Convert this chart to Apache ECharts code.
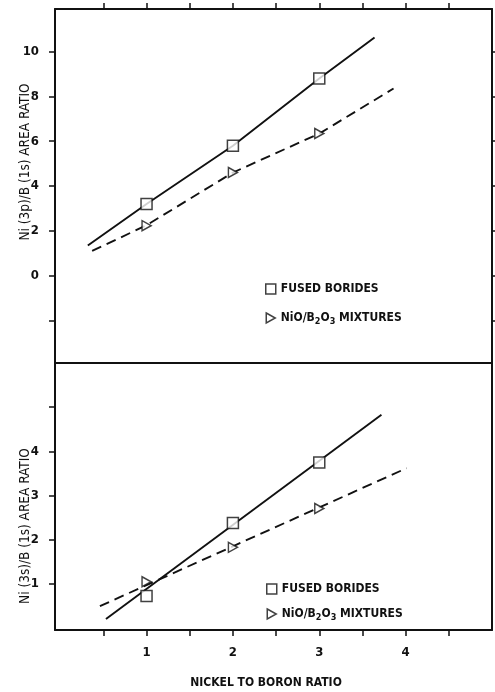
<!DOCTYPE html>
<html>
<head>
<meta charset="utf-8">
<title>Ni/B XPS area ratios</title>
<script src="https://cdn.jsdelivr.net/npm/echarts@6/dist/echarts.min.js"></script>
<style>
  html, body { margin: 0; padding: 0; background: #fff; }
  #chart { width: 495px; height: 692px; }
</style>
</head>
<body>
<div id="chart"></div>
<script>
// Nickel to boron ratio of the samples
const nickelRatio = [1, 2, 3];

// Ni(3p)/B(1s) area ratio
const p3Fused = [3.2, 5.8, 8.8];
const p3Mixture = [2.23, 4.6, 6.34];
// hand-drawn trend lines through the Ni(3p) points, [ratio, area ratio]
const p3FusedTrend = [[0.32, 1.34], [1, 3.2], [2, 5.8], [3, 8.8], [3.64, 10.63]];
const p3MixtureTrend = [[0.37, 1.1], [1, 2.25], [2, 4.6], [3, 6.34], [3.86, 8.35]];

// Ni(3s)/B(1s) area ratio
const s3Fused = [0.73, 2.38, 3.75];
const s3Mixture = [1.05, 1.83, 2.71];
const s3FusedTrend = [[0.53, 0.21], [3.72, 4.83]];
const s3MixtureTrend = [[0.46, 0.5], [4.01, 3.62]];

// axis ticks and labels
const xTicks = [0.5, 1, 1.5, 2, 2.5, 3, 3.5, 4, 4.5];
const xLabels = [1, 2, 3, 4];
const p3Ticks = [-2, 0, 2, 4, 6, 8, 10];
const p3Labels = [0, 2, 4, 6, 8, 10];
const s3Ticks = [1, 2, 3, 4, 5];
const s3Labels = [1, 2, 3, 4];

const FUSED = 'FUSED BORIDES';
const MIX = 'NiO/B2O3 MIXTURES';

const FONT = "'Liberation Sans Narrow', 'DejaVu Sans Condensed', 'Liberation Sans', sans-serif";
const INK = '#111';
const TRI = 'path://M0,0 L9,5 L0,10 Z';

const pairs = (xs, ys) => xs.map((x, i) => [x, ys[i]]);

const hollow = { color: '#fff', borderColor: INK, borderWidth: 1.5 };

function frameAxis(extra) {
  return Object.assign({
    type: 'value',
    axisLine: { show: true, onZero: false, lineStyle: { color: INK, width: 2 } },
    axisTick: { show: false },
    axisLabel: { show: false },
    splitLine: { show: false }
  }, extra);
}

function tickedAxis(ticks, labels, extra) {
  return frameAxis(Object.assign({
    axisTick: { show: true, inside: false, length: 6, customValues: ticks,
                lineStyle: { color: INK, width: 1.5 } },
    axisLabel: labels ? {
      show: true, customValues: labels, margin: 16,
      color: INK, fontFamily: FONT, fontSize: 13, fontWeight: 'bold'
    } : { show: false }
  }, extra));
}

function trend(data, dashed, xi, yi) {
  return {
    type: 'line', data: data, xAxisIndex: xi, yAxisIndex: yi,
    showSymbol: false, silent: true, z: 2,
    lineStyle: { color: INK, width: 1.9, type: dashed ? [10, 6] : 'solid' }
  };
}

function points(name, data, symbol, size, xi, yi) {
  return {
    type: 'scatter', name: name, data: data, xAxisIndex: xi, yAxisIndex: yi,
    symbol: symbol, symbolSize: size, itemStyle: hollow, z: 4
  };
}

const legendText = {
  rich: {
    t: { fontFamily: FONT, fontSize: 12, fontWeight: 'bold', color: INK, lineHeight: 14 },
    s: { fontFamily: FONT, fontSize: 9, fontWeight: 'bold', color: INK, lineHeight: 14,
         padding: [7, 0, 0, 0] }
  }
};
function legendLabel(name) {
  return name === MIX
    ? '{t|NiO/B}{s|2}{t|O}{s|3}{t| MIXTURES}'
    : '{t|' + name + '}';
}
function legend(left, top, gap) {
  return {
    orient: 'vertical', left: left, top: top, itemGap: gap,
    itemWidth: 10, itemHeight: 10, padding: 0, selectedMode: false,
    data: [
      { name: FUSED, icon: 'rect', itemStyle: hollow },
      { name: MIX, icon: TRI, itemStyle: hollow }
    ],
    formatter: legendLabel,
    textStyle: legendText
  };
}

const xRange = { min: -0.06, max: 5.0 };

const chart = echarts.init(document.getElementById('chart'), null, { renderer: 'canvas' });
chart.setOption({
  animation: false,
  backgroundColor: '#fff',
  grid: [
    { left: 55, right: 3, top: 9, height: 354 },
    { left: 55, right: 3, top: 363, height: 267 }
  ],
  xAxis: [
    tickedAxis(xTicks, null, Object.assign({ gridIndex: 0, position: 'top' }, xRange)),
    frameAxis(Object.assign({ gridIndex: 0, position: 'bottom' }, xRange)),
    tickedAxis(xTicks, xLabels, Object.assign({ gridIndex: 1, position: 'bottom' }, xRange))
  ],
  yAxis: [
    tickedAxis(p3Ticks, p3Labels, { gridIndex: 0, position: 'left', min: -3.9, max: 11.9 }),
    tickedAxis(p3Ticks, null, { gridIndex: 0, position: 'right', min: -3.9, max: 11.9 }),
    tickedAxis(s3Ticks, s3Labels, { gridIndex: 1, position: 'left', min: -0.04, max: 6.0 }),
    frameAxis({ gridIndex: 1, position: 'right', min: -0.04, max: 6.0 })
  ],
  legend: [legend(265, 283, 15), legend(266, 583, 11)],
  graphic: [
    {
      type: 'text', x: 25, y: 162, rotation: Math.PI / 2,
      style: { text: 'Ni (3p)/B (1s) AREA RATIO', fill: INK, font: '13.5px ' + FONT,
               textAlign: 'center', textVerticalAlign: 'middle' }
    },
    {
      type: 'text', x: 25, y: 526, rotation: Math.PI / 2,
      style: { text: 'Ni (3s)/B (1s) AREA RATIO', fill: INK, font: '13.5px ' + FONT,
               textAlign: 'center', textVerticalAlign: 'middle' }
    },
    {
      type: 'text', x: 266, y: 683,
      style: { text: 'NICKEL TO BORON RATIO', fill: INK, font: 'bold 12px ' + FONT,
               textAlign: 'center', textVerticalAlign: 'middle' }
    }
  ],
  series: [
    trend(p3FusedTrend, false, 0, 0),
    trend(p3MixtureTrend, true, 0, 0),
    points(FUSED, pairs(nickelRatio, p3Fused), 'rect', 11, 0, 0),
    points(MIX, pairs(nickelRatio, p3Mixture), TRI, [9, 10], 0, 0),
    trend(s3FusedTrend, false, 2, 2),
    trend(s3MixtureTrend, true, 2, 2),
    points(FUSED, pairs(nickelRatio, s3Fused), 'rect', 11, 2, 2),
    points(MIX, pairs(nickelRatio, s3Mixture), TRI, [9, 10], 2, 2)
  ]
});
</script>
</body>
</html>
